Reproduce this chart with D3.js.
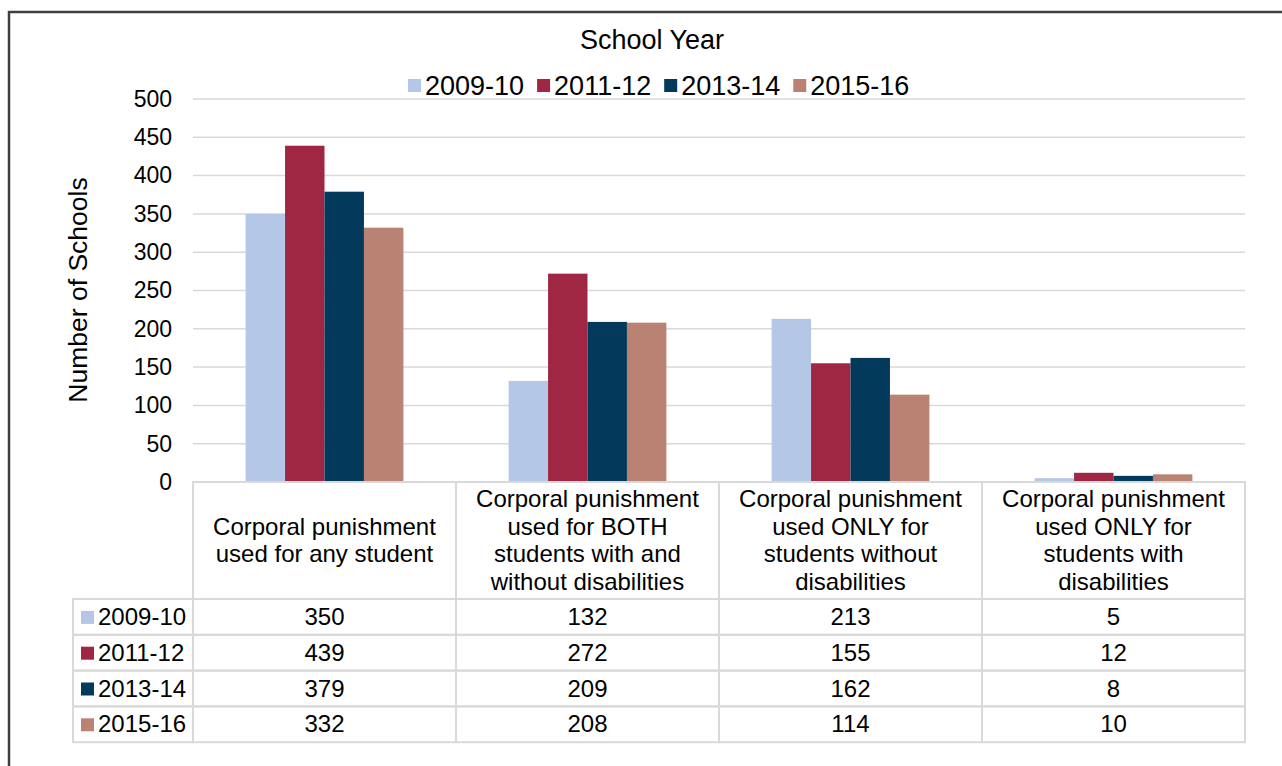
<!DOCTYPE html>
<html lang="en">
<head>
  <meta charset="UTF-8">
  <style>
    body { margin: 0; background: #fff; }
    svg { display: block; font-family: 'Liberation Sans', Arial, sans-serif; }
    .grid line { stroke: #d9d9d9; stroke-width: 1.5; }
    .axis-y text { font-size: 23px; fill: #000; }
    .cell { fill: none; stroke: #d9d9d9; stroke-width: 2; }
    .tbl text { font-size: 24px; fill: #000; }
  </style>
  <title>Corporal punishment by school year</title>
  <script src="https://d3js.org/d3.v7.min.js"></script>
</head>
<body>
<svg id="chart"></svg>
<script>

var categories = [
  ['Corporal punishment', 'used for any student'],
  ['Corporal punishment', 'used for BOTH', 'students with and', 'without disabilities'],
  ['Corporal punishment', 'used ONLY for', 'students without', 'disabilities'],
  ['Corporal punishment', 'used ONLY for', 'students with', 'disabilities']
];
var years = ['2009-10', '2011-12', '2013-14', '2015-16'];
var colors = ['#b4c7e7', '#a02743', '#033a5c', '#b98273'];
var v2009 = [350, 132, 213, 5];
var v2011 = [439, 272, 155, 12];
var v2013 = [379, 209, 162, 8];
var v2015 = [332, 208, 114, 10];
var yTicks = [0, 50, 100, 150, 200, 250, 300, 350, 400, 450, 500];

var series = years.map(function(y, i) {
  return { year: y, color: colors[i], values: [v2009, v2011, v2013, v2015][i] };
});

var size = { width: 1282, height: 766 };
var plot = { left: 193, right: 1245, top: 99, bottom: 482 };
var rowH = 35.8;
var headerBottom = 599;

var svg = d3.select('#chart')
  .attr('width', size.width)
  .attr('height', size.height);

// outer frame (runs past the window on the right and bottom)
svg.append('rect')
  .attr('x', 9).attr('y', 12)
  .attr('width', 1300).attr('height', 800)
  .attr('fill', 'none')
  .attr('stroke', '#404040')
  .attr('stroke-width', 2.5);

var x0 = d3.scaleBand()
  .domain(d3.range(categories.length))
  .range([plot.left, plot.right])
  .paddingInner(0.4)
  .paddingOuter(0.2);
var x1 = d3.scaleBand()
  .domain(years)
  .range([0, x0.bandwidth()]);
var y = d3.scaleLinear()
  .domain([0, 500])
  .range([plot.bottom, plot.top]);

// gridlines
svg.append('g')
  .attr('class', 'grid')
  .selectAll('line')
  .data(yTicks)
  .enter().append('line')
  .attr('x1', plot.left).attr('x2', plot.right)
  .attr('y1', function(d) { return y(d); })
  .attr('y2', function(d) { return y(d); });

var yAxis = d3.axisLeft(y)
  .tickValues(yTicks)
  .tickSize(0)
  .tickPadding(21);
svg.append('g')
  .attr('class', 'axis-y')
  .attr('transform', 'translate(' + plot.left + ',0)')
  .call(yAxis)
  .call(function(g) { g.select('.domain').remove(); g.selectAll('text').attr('font-family', null); });

// bars
var groups = svg.selectAll('.grp')
  .data(categories)
  .enter().append('g')
  .attr('class', 'grp')
  .attr('transform', function(d, i) { return 'translate(' + x0(i) + ',0)'; });

groups.selectAll('rect')
  .data(function(d, i) {
    return series.map(function(s) { return { year: s.year, color: s.color, v: s.values[i] }; });
  })
  .enter().append('rect')
  .attr('x', function(d) { return x1(d.year); })
  .attr('width', x1.bandwidth())
  .attr('y', function(d) { return y(d.v); })
  .attr('height', function(d) { return y(0) - y(d.v); })
  .attr('fill', function(d) { return d.color; });

// title + legend
svg.append('text')
  .attr('x', 652).attr('y', 49)
  .attr('text-anchor', 'middle')
  .attr('font-size', 27)
  .text('School Year');

var legend = svg.append('g').attr('transform', 'translate(408,86)');
var lx = 0;
series.forEach(function(s) {
  var item = legend.append('g').attr('transform', 'translate(' + lx + ',0)');
  item.append('rect')
    .attr('x', 0).attr('y', -7)
    .attr('width', 13).attr('height', 13)
    .attr('fill', s.color);
  var t = item.append('text')
    .attr('x', 17).attr('y', 9)
    .attr('font-size', 27)
    .text(s.year);
  lx += 17 + t.node().getComputedTextLength() + 13;
});

// y axis title
svg.append('text')
  .attr('transform', 'translate(87,290) rotate(-90)')
  .attr('text-anchor', 'middle')
  .attr('font-size', 26.5)
  .text('Number of Schools');

// data table
var tbl = svg.append('g').attr('class', 'tbl');
var step = x0.step();
var colX = function(i) { return plot.left + i * step; };

// header cells
categories.forEach(function(lines, i) {
  tbl.append('rect').attr('class', 'cell')
    .attr('x', colX(i)).attr('y', plot.bottom)
    .attr('width', step).attr('height', headerBottom - plot.bottom);
  var lh = 27.6;
  var cy = (plot.bottom + headerBottom) / 2 - (lines.length - 1) * lh / 2;
  tbl.append('text')
    .attr('text-anchor', 'middle')
    .selectAll('tspan')
    .data(lines)
    .enter().append('tspan')
    .attr('x', colX(i) + step / 2)
    .attr('y', function(d, k) { return cy + k * lh + 8; })
    .text(function(d) { return d; });
});

// value rows
series.forEach(function(s, r) {
  var ry = headerBottom + r * rowH;
  tbl.append('rect').attr('class', 'cell')
    .attr('x', 73).attr('y', ry)
    .attr('width', plot.left - 73).attr('height', rowH);
  tbl.append('rect')
    .attr('x', 81).attr('y', ry + rowH / 2 - 6)
    .attr('width', 13).attr('height', 13)
    .attr('fill', s.color);
  tbl.append('text')
    .attr('x', 98).attr('y', ry + rowH / 2 + 8)
    .text(s.year);
  s.values.forEach(function(v, i) {
    tbl.append('rect').attr('class', 'cell')
      .attr('x', colX(i)).attr('y', ry)
      .attr('width', step).attr('height', rowH);
    tbl.append('text')
      .attr('x', colX(i) + step / 2)
      .attr('y', ry + rowH / 2 + 8)
      .attr('text-anchor', 'middle')
      .text(v);
  });
});

</script>
</body>
</html>
